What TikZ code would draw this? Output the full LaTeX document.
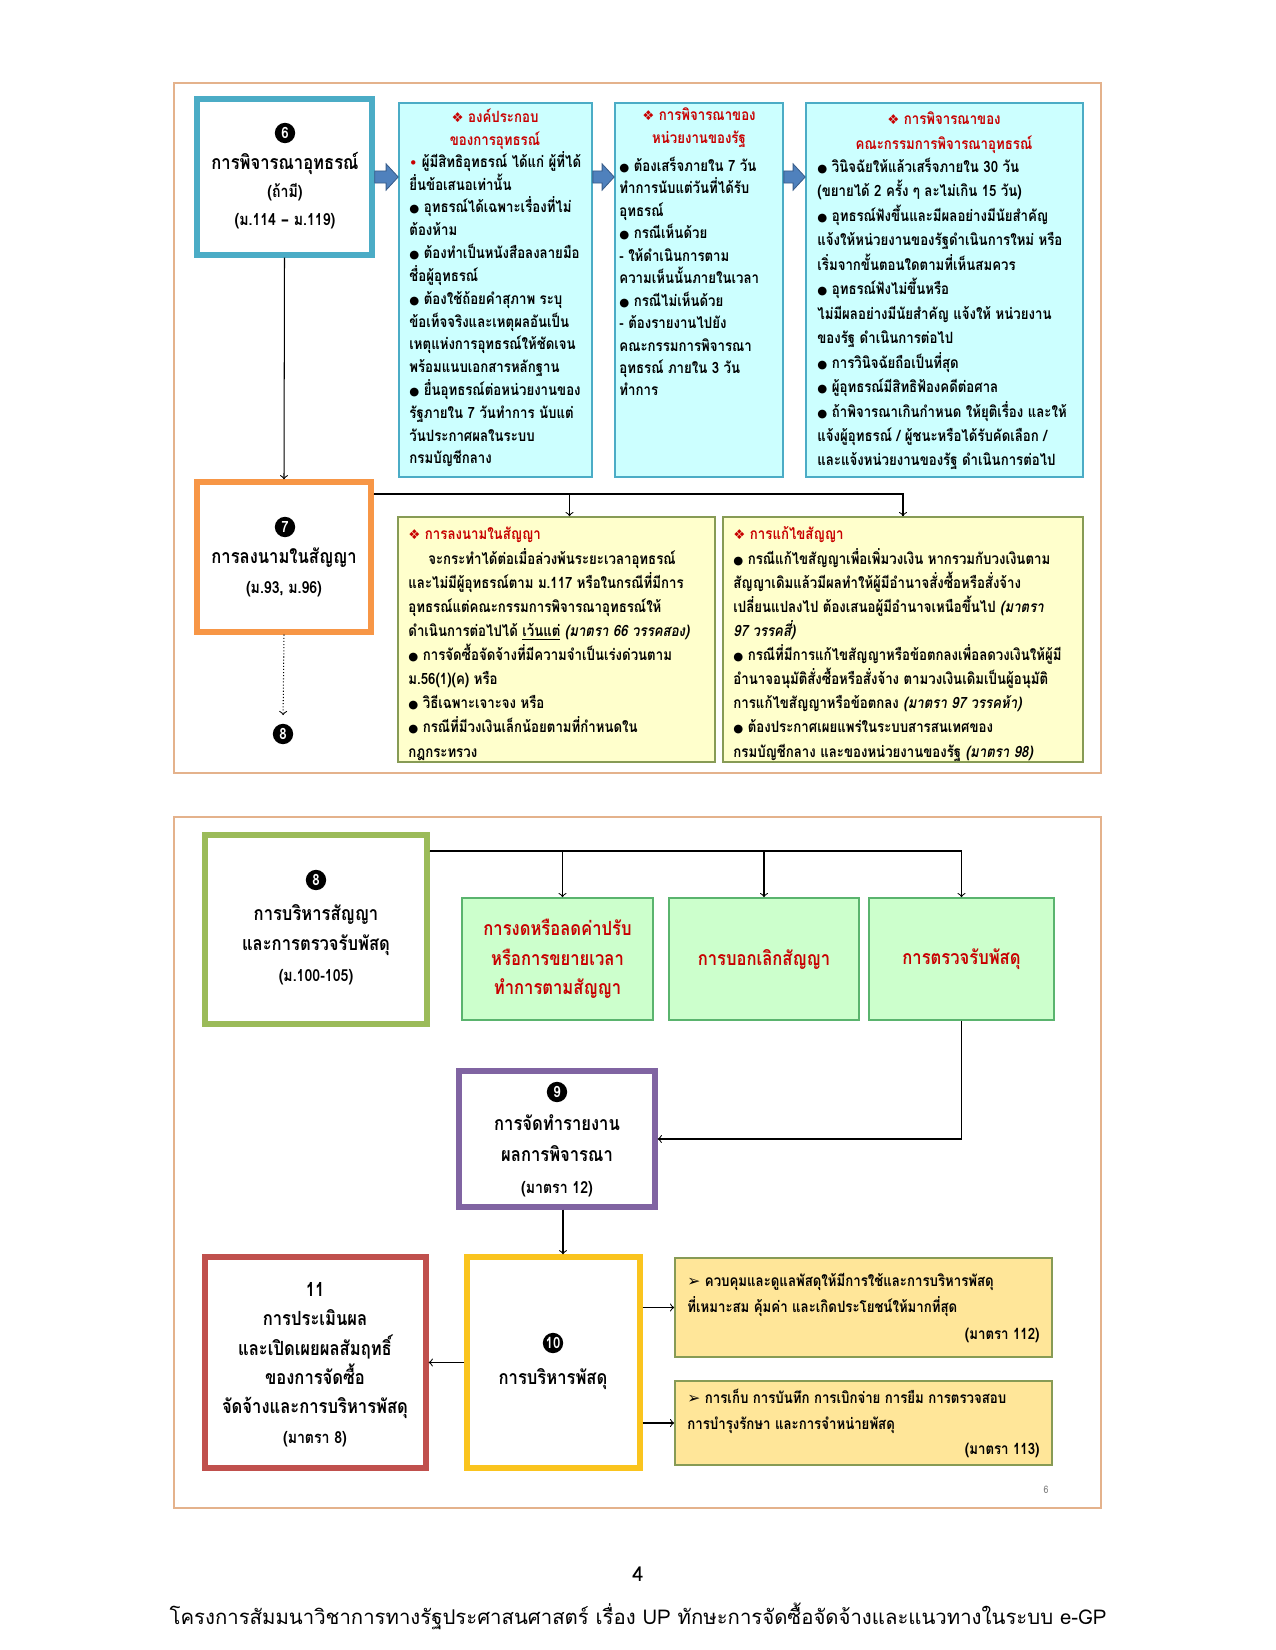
\documentclass[tikz,border=0pt]{standalone}
\usepackage{fontspec}
\setmainfont[Script=Thai, FakeStretch=0.85]{Loma}
\newfontfamily\footfont[Script=Thai]{Loma}
\newfontfamily\symfont{DejaVu Sans}
\usetikzlibrary{fit,calc}

\definecolor{framecol}{RGB}{228,178,140}
\definecolor{teal6}{RGB}{75,172,198}
\definecolor{orange7}{RGB}{247,150,70}
\definecolor{green8}{RGB}{155,187,89}
\definecolor{purple9}{RGB}{128,100,162}
\definecolor{gold10}{RGB}{250,196,30}
\definecolor{red11}{RGB}{192,80,77}
\definecolor{cyanfill}{RGB}{204,255,255}
\definecolor{cyanedge}{RGB}{75,172,198}
\definecolor{yelfill}{RGB}{255,255,204}
\definecolor{olive}{RGB}{135,155,85}
\definecolor{greenfill}{RGB}{204,255,204}
\definecolor{greenedge}{RGB}{90,180,110}
\definecolor{tanfill}{RGB}{255,230,153}
\definecolor{titlered}{RGB}{200,0,0}
\definecolor{arrowblue}{RGB}{79,129,189}
\definecolor{arrowedge}{RGB}{56,93,138}

\newcommand{\bul}{{\symfont\fontsize{5.5}{5.5}\selectfont ●}\ }
\newcommand{\dmd}{{\symfont\fontsize{6.5}{6.5}\selectfont ❖}\ }
\newcommand{\sm}{\fontsize{8}{9}\selectfont}
% thin line inside a thick stage frame
\newcommand{\innerframe}[2]{\draw[#2, line width=0.6pt] ([shift={(5,5)}]#1.north west) rectangle ([shift={(-5,-5)}]#1.south east);}
% wide blue arrow between two boxes, at the height of box 6
\newcommand{\blockarrow}[2]{%
  \filldraw[fill=arrowblue, draw=arrowedge, line width=0.4pt]
    let \p1=(#1.east |- b6.east), \p2=(#2.west) in
    (\x1,\y1+2.9pt) -- (\x2-5.8pt,\y1+2.9pt) -- (\x2-5.8pt,\y1+6.3pt) -- (\x2,\y1)
    -- (\x2-5.8pt,\y1-6.3pt) -- (\x2-5.8pt,\y1-2.9pt) -- (\x1,\y1-2.9pt) -- cycle;}

\begin{document}
\begin{tikzpicture}[x=0.4818pt, y=-0.4818pt,
  every node/.style={inner sep=0pt},
  frame/.style={draw=framecol, line width=0.8pt},
  stage/.style={draw=#1, line width=2.6pt, fill=white},
  num/.style={circle, fill=black, text=white, minimum size=9.8pt, font=\bfseries\fontsize{7.5}{7.5}\selectfont},
  stitle/.style={anchor=base, align=center, font={\bfseries\fontsize{9.4}{#1}\selectfont\lineskiplimit-20pt}},
  bluebox/.style={draw=cyanedge, fill=cyanfill, line width=0.8pt},
  yelbox/.style={draw=olive, fill=yelfill, line width=0.8pt},
  greenbox/.style={draw=greenedge, fill=greenfill, line width=0.8pt},
  tanbox/.style={draw=olive, fill=tanfill, line width=0.8pt},
  head/.style={anchor=base, align=center, text=titlered, font={\bfseries\fontsize{7.5}{#1}\selectfont\lineskiplimit-20pt}},
  body/.style={anchor=base west, align=left, font={\bfseries\fontsize{7.5}{#1}\selectfont\lineskiplimit-20pt}},
  redtitle/.style={align=center, text=titlered, font={\bfseries\fontsize{9.4}{14.2}\selectfont\lineskiplimit-20pt}},
  link/.style={->, line width=0.5pt},
  trunk/.style={line width=0.8pt}]
\useasboundingbox (0,0) rectangle (1275,1650);
\fill[white] (0,0) rectangle (1275,1650);

%% upper panel
\draw[frame] (174,83) rectangle (1101,773);

\node[stage=teal6, fit={(197,99) (372,255)}] (b6) {};
\innerframe{b6}{teal6}
\node[num] (c6) at (285,133) {6};
\node[stitle=13.7] (t6) at (285,226) {การพิจารณาอุทธรณ์\\{\sm(ถ้ามี)}\\{\sm(ม.114 {\symfont –} ม.119)}};

\node[bluebox, fit={(399,103) (592,477)}] (ap1) {};
\node[bluebox, fit={(615,103) (783,477)}] (ap2) {};
\node[bluebox, fit={(806,103) (1083,477)}] (ap3) {};
\blockarrow{b6}{ap1}
\blockarrow{ap1}{ap2}
\blockarrow{ap2}{ap3}

% texts are placed by the baseline of their last line
\node[head=11.5] (h1) at (495,146) {\dmd องค์ประกอบ\\ของการอุทธรณ์};
\node[body=11] (x1) at (409,464) {{\color{titlered}\symfont\fontsize{6}{6}\selectfont •}\ ผู้มีสิทธิอุทธรณ์ ได้แก่ ผู้ที่ได้\\
ยื่นข้อเสนอเท่านั้น\\
\bul อุทธรณ์ได้เฉพาะเรื่องที่ไม่\\
ต้องห้าม\\
\bul ต้องทำเป็นหนังสือลงลายมือ\\
ชื่อผู้อุทธรณ์\\
\bul ต้องใช้ถ้อยคำสุภาพ ระบุ\\
ข้อเท็จจริงและเหตุผลอันเป็น\\
เหตุแห่งการอุทธรณ์ให้ชัดเจน\\
พร้อมแนบเอกสารหลักฐาน\\
\bul ยื่นอุทธรณ์ต่อหน่วยงานของ\\
รัฐภายใน 7 วันทำการ นับแต่\\
วันประกาศผลในระบบ\\
กรมบัญชีกลาง};

\node[head=11.5] (h2) at (699,144) {\dmd การพิจารณาของ\\หน่วยงานของรัฐ};
\node[body=10.84] (x2) at (619,396) {\bul ต้องเสร็จภายใน 7 วัน\\
ทำการนับแต่วันที่ได้รับ\\
อุทธรณ์\\
\bul กรณีเห็นด้วย\\
- ให้ดำเนินการตาม\\
ความเห็นนั้นภายในเวลา\\
\bul กรณีไม่เห็นด้วย\\
- ต้องรายงานไปยัง\\
คณะกรรมการพิจารณา\\
อุทธรณ์ ภายใน 3 วัน\\
ทำการ};

\node[head=12.2] (h3) at (944,150) {\dmd การพิจารณาของ\\คณะกรรมการพิจารณาอุทธรณ์};
\node[body=11.8] (x3) at (817,466) {\bul วินิจฉัยให้แล้วเสร็จภายใน 30 วัน\\
(ขยายได้ 2 ครั้ง ๆ ละไม่เกิน 15 วัน)\\
\bul อุทธรณ์ฟังขึ้นและมีผลอย่างมีนัยสำคัญ\\
แจ้งให้หน่วยงานของรัฐดำเนินการใหม่ หรือ\\
เริ่มจากขั้นตอนใดตามที่เห็นสมควร\\
\bul อุทธรณ์ฟังไม่ขึ้นหรือ\\
ไม่มีผลอย่างมีนัยสำคัญ แจ้งให้ หน่วยงาน\\
ของรัฐ ดำเนินการต่อไป\\
\bul การวินิจฉัยถือเป็นที่สุด\\
\bul ผู้อุทธรณ์มีสิทธิฟ้องคดีต่อศาล\\
\bul ถ้าพิจารณาเกินกำหนด ให้ยุติเรื่อง และให้\\
แจ้งผู้อุทธรณ์ / ผู้ชนะหรือได้รับคัดเลือก /\\
และแจ้งหน่วยงานของรัฐ ดำเนินการต่อไป};

\node[stage=orange7, fit={(197,482) (371,632)}] (b7) {};
\innerframe{b7}{orange7}
\node[num] (c7) at (285,527) {7};
\node[stitle=14] (t7) at (284,593) {การลงนามในสัญญา\\{\sm(ม.93, ม.96)}};

\node[yelbox, fit={(398,517) (715,762)}] (sg1) {};
\node[yelbox, fit={(723,517) (1083,762)}] (sg2) {};
\draw[trunk] ([shift={(0,15)}]b7.north east) -| (sg2.north);
\draw[link] ([shift={(0,15)}]b7.north east) -| ([shift={(13,0)}]sg1.north);
\draw[link] ([shift={(0,15)}]b7.north east) -| (sg2.north);
\draw[link] (b6.south) -- (b7.north);

\node[body=11.6, text=titlered] (s1h) at (408,539) {\dmd การลงนามในสัญญา};
\node[body=11.6] (s1) at (408,757) {\hspace*{24\pgflinewidth}จะกระทำได้ต่อเมื่อล่วงพ้นระยะเวลาอุทธรณ์\\
และไม่มีผู้อุทธรณ์ตาม ม.117 หรือในกรณีที่มีการ\\
อุทธรณ์แต่คณะกรรมการพิจารณาอุทธรณ์ให้\\
ดำเนินการต่อไปได้ \underline{เว้นแต่} {\itshape (มาตรา 66 วรรคสอง)}\\
\bul การจัดซื้อจัดจ้างที่มีความจำเป็นเร่งด่วนตาม\\
ม.56(1)(ค) หรือ\\
\bul วิธีเฉพาะเจาะจง หรือ\\
\bul กรณีที่มีวงเงินเล็กน้อยตามที่กำหนดใน\\
กฎกระทรวง};

\node[body=11.6, text=titlered] (s2h) at (733,539) {\dmd การแก้ไขสัญญา};
\node[body=11.6] (s2) at (733,757) {\bul กรณีแก้ไขสัญญาเพื่อเพิ่มวงเงิน หากรวมกับวงเงินตาม\\
สัญญาเดิมแล้วมีผลทำให้ผู้มีอำนาจสั่งซื้อหรือสั่งจ้าง\\
เปลี่ยนแปลงไป ต้องเสนอผู้มีอำนาจเหนือขึ้นไป {\itshape (มาตรา}\\
{\itshape 97 วรรคสี่)}\\
\bul กรณีที่มีการแก้ไขสัญญาหรือข้อตกลงเพื่อลดวงเงินให้ผู้มี\\
อำนาจอนุมัติสั่งซื้อหรือสั่งจ้าง ตามวงเงินเดิมเป็นผู้อนุมัติ\\
การแก้ไขสัญญาหรือข้อตกลง {\itshape (มาตรา 97 วรรคห้า)}\\
\bul ต้องประกาศเผยแพร่ในระบบสารสนเทศของ\\
กรมบัญชีกลาง และของหน่วยงานของรัฐ {\itshape (มาตรา 98)}};

\node[num] (c8a) at (283,734) {8};
\draw[link, densely dotted, shorten >=4pt] (b7.south) -- (c8a.north);

%% lower panel
\draw[frame] (174,817) rectangle (1101,1508);

\node[stage=green8, fit={(205,835) (427,1024)}] (b8) {};
\innerframe{b8}{green8}
\node[num] (c8) at (316,880) {8};
\node[stitle=14.5] (t8) at (316,981) {การบริหารสัญญา\\และการตรวจรับพัสดุ\\{\sm(ม.100-105)}};

\node[greenbox, fit={(462,898) (653,1020)}] (gp1) {};
\node[greenbox, fit={(669,898) (859,1020)}] (gp2) {};
\node[greenbox, fit={(869,898) (1054,1020)}] (gp3) {};
\node[redtitle] (tg1) at (gp1.center) {การงดหรือลดค่าปรับ\\หรือการขยายเวลา\\ทำการตามสัญญา};
\node[redtitle] (tg2) at (gp2.center) {การบอกเลิกสัญญา};
\node[redtitle] (tg3) at (gp3.center) {การตรวจรับพัสดุ};
\draw[trunk] ([shift={(0,19)}]b8.north east) -| (gp3.north);
\draw[link] ([shift={(0,19)}]b8.north east) -| ([shift={(5,0)}]gp1.north);
\draw[link] ([shift={(0,19)}]b8.north east) -| (gp2.north);
\draw[link] ([shift={(0,19)}]b8.north east) -| (gp3.north);

\node[stage=purple9, fit={(459,1071) (655,1207)}] (b9) {};
\innerframe{b9}{purple9}
\node[num] (c9) at (557,1092) {9};
\node[stitle=15] (t9) at (557,1193) {การจัดทำรายงาน\\ผลการพิจารณา\\{\sm(มาตรา 12)}};
\draw[link] (gp3.south) |- (b9.east);

\node[stage=gold10, fit={(467,1257) (640,1468)}] (b10) {};
\innerframe{b10}{gold10}
\node[num] (c10) at (553,1343) {10};
\node[stitle=14] (t10) at (553,1384) {การบริหารพัสดุ};
\draw[link] ([shift={(6,0)}]b9.south) -- ([shift={(6,0)}]b9.south |- b10.north);

\node[stage=red11, fit={(205,1257) (426,1468)}] (b11) {};
\innerframe{b11}{red11}
\node[stitle=14.1] (t11) at (315,1443) {11\\การประเมินผล\\และเปิดเผยผลสัมฤทธิ์\\ของการจัดซื้อ\\จัดจ้างและการบริหารพัสดุ\\{\sm(มาตรา 8)}};
\draw[link] (b10.west) -- (b11.east);

\node[tanbox, fit={(675,1258) (1052,1357)}] (pa) {};
\node[tanbox, fit={(675,1381) (1052,1465)}] (pb) {};
\node[body=12.2] (xa) at (687,1312) {{\symfont ➢}\ ควบคุมและดูแลพัสดุให้มีการใช้และการบริหารพัสดุ\\ที่เหมาะสม คุ้มค่า และเกิดประโยชน์ให้มากที่สุด};
\node[body=10, anchor=base east] (ra) at (1040,1339) {(มาตรา 112)};
\node[body=12.2] (xb) at (687,1429) {{\symfont ➢}\ การเก็บ การบันทึก การเบิกจ่าย การยืม การตรวจสอบ\\การบำรุงรักษา และการจำหน่ายพัสดุ};
\node[body=10, anchor=base east] (rb) at (1040,1454) {(มาตรา 113)};
\draw[link] (b10.east |- pa.west) -- (pa.west);
\draw[link] (b10.east |- pb.west) -- (pb.west);

\node[text=gray, font=\fontsize{5}{5}\selectfont] (pg6) at (1046,1490) {6};

%% page footer
\node[font=\footfont\fontsize{9.8}{12}\selectfont] (pg) at (638,1574) {4};
\node[font=\footfont\fontsize{9.8}{12}\selectfont] (foot) at (638,1616) {โครงการสัมมนาวิชาการทางรัฐประศาสนศาสตร์ เรื่อง UP ทักษะการจัดซื้อจัดจ้างและแนวทางในระบบ e-GP};
\end{tikzpicture}
\end{document}
